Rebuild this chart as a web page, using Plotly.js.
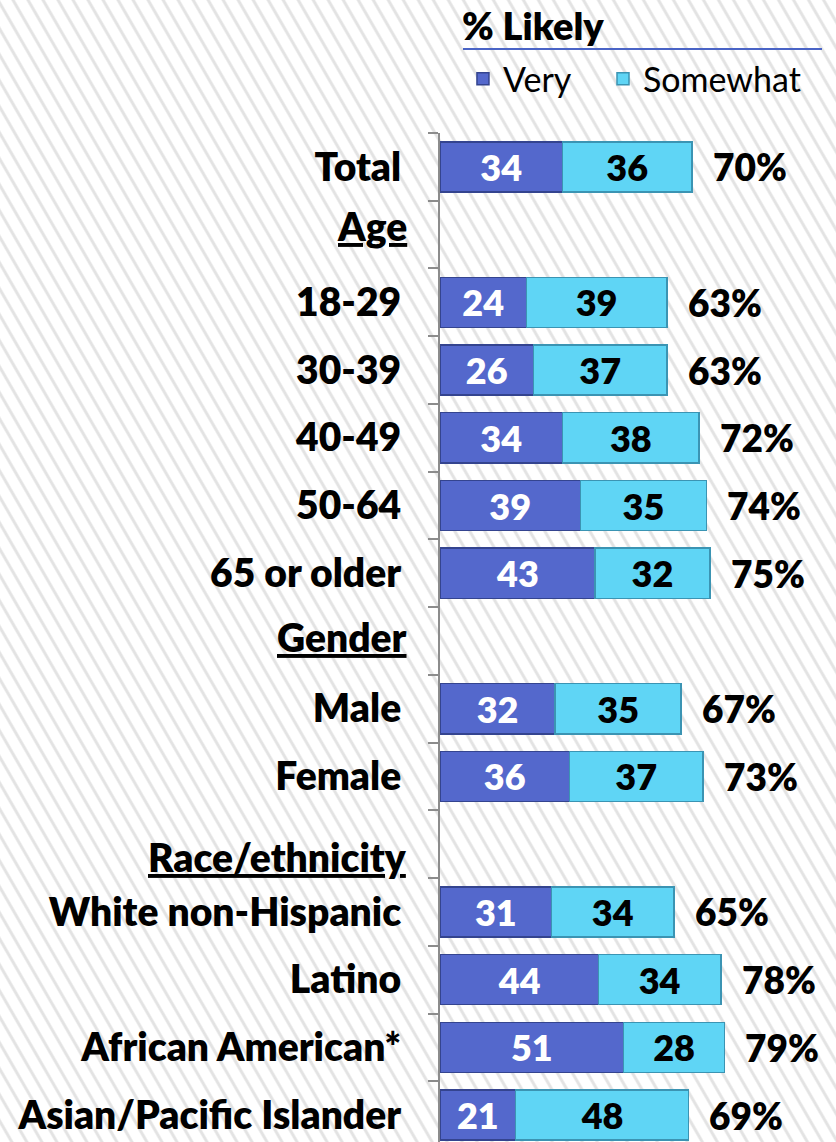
<!DOCTYPE html>
<html>
<head>
<meta charset="utf-8">
<script src="https://cdn.plot.ly/plotly-3.0.1.min.js"></script>
<style>
html, body { margin:0; padding:0; }
body {
  width:836px; height:1142px; overflow:hidden;
  background: repeating-linear-gradient(60deg, #ffffff 0px, #ffffff 8px, #e3e3e3 9.5px, #e3e3e3 11px, #ffffff 12.5px, #ffffff 13px);
}
#chart { width:836px; height:1142px; }
</style>
</head>
<body>
<div id="chart"></div>
<script>
const categories = ["Total", "Age", "18-29", "30-39", "40-49", "50-64", "65 or older",
  "Gender", "Male", "Female", "Race/ethnicity", "White non-Hispanic", "Latino",
  "African American*", "Asian/Pacific Islander"];
const headers = ["Age", "Gender", "Race/ethnicity"];
const very =     [34, null, 24, 26, 34, 39, 43, null, 32, 36, null, 31, 44, 51, 21];
const somewhat = [36, null, 39, 37, 38, 35, 32, null, 35, 37, null, 34, 34, 28, 48];
const totals =   [70, null, 63, 63, 72, 74, 75, null, 67, 73, null, 65, 78, 79, 69];
const seriesNames = ["Very", "Somewhat"];
const chartTitle = "% Likely";

const FONT = "Lato, 'Open Sans', sans-serif";

const traces = [
  {
    type: "bar", orientation: "h", name: seriesNames[0], legend: "legend",
    y: categories, x: very,
    text: very.map(v => v == null ? "" : String(v)),
    textposition: "inside", insidetextanchor: "middle", constraintext: "none",
    textfont: {family: FONT, size: 36, color: "#ffffff", weight: 800},
    marker: {color: "#5468cc", line: {color: "#34448f", width: 1.5}},
    hoverinfo: "skip"
  },
  {
    type: "bar", orientation: "h", name: seriesNames[1], legend: "legend2",
    y: categories, x: somewhat,
    text: somewhat.map(v => v == null ? "" : String(v)),
    textposition: "inside", insidetextanchor: "middle", constraintext: "none",
    textfont: {family: FONT, size: 36, color: "#000000", weight: 800},
    marker: {color: "#5fd5f5", line: {color: "#3b94b3", width: 1.5}},
    hoverinfo: "skip"
  }
];

const annotations = [];
categories.forEach((c, i) => {
  if (totals[i] != null) {
    annotations.push({
      x: totals[i], y: c, xref: "x", yref: "y",
      text: totals[i] + "%", showarrow: false,
      xanchor: "left", xshift: 19,
      font: {family: FONT, size: 37, color: "#000000", weight: 800}
    });
  }
});
// underlined group headers, nudged like the original slide
const headerShift = {"Age": 9, "Gender": 4, "Race/ethnicity": -13};
headers.forEach(h => {
  annotations.push({
    x: 0, y: h, xref: "paper", yref: "y",
    text: "<u>" + h + "</u>", showarrow: false,
    xanchor: "right", xshift: -31, yshift: headerShift[h],
    font: {family: FONT, size: 39, color: "#000000", weight: 800}
  });
});

const legendBase = {
  orientation: "h", xanchor: "left", y: 1.082, yanchor: "top",
  font: {family: FONT, size: 34, color: "#000000"},
  bgcolor: "rgba(0,0,0,0)"
};

const layout = {
  width: 836, height: 1142,
  margin: {l: 440, r: 0, t: 133, b: 0},
  paper_bgcolor: "rgba(0,0,0,0)", plot_bgcolor: "rgba(0,0,0,0)",
  barmode: "stack", bargap: 0.26,
  showlegend: true,
  title: {
    text: chartTitle,
    x: 462/836, xanchor: "left", xref: "container",
    y: 1 - 27/1142, yanchor: "middle", yref: "container",
    font: {family: FONT, size: 38, color: "#000000", weight: 800}
  },
  legend: Object.assign({}, legendBase, {x: 0.058}),
  legend2: Object.assign({}, legendBase, {x: 0.4116}),
  xaxis: {range: [0, 110], visible: false, fixedrange: true},
  yaxis: {
    type: "category", range: [14.397, -0.5],
    tickmode: "array", tickvals: categories,
    ticktext: categories.map(c => headers.includes(c) ? "" : c),
    showline: true, linecolor: "#8c8c8c", linewidth: 2,
    ticks: "outside", tickson: "boundaries", ticklen: 10, tickcolor: "#8c8c8c", tickwidth: 2,
    ticklabelstandoff: 29,
    tickfont: {family: FONT, size: 39, color: "#000000", weight: 800},
    showgrid: false, zeroline: false, fixedrange: true
  },
  shapes: [{
    type: "line", xref: "paper", yref: "paper",
    x0: 23/396, x1: 382/396, y0: 1 + (133-49)/1009, y1: 1 + (133-49)/1009,
    line: {color: "#4a64c6", width: 2}
  }],
  annotations: annotations
};

Plotly.newPlot("chart", traces, layout, {displayModeBar: false, staticPlot: true});
</script>
</body>
</html>
